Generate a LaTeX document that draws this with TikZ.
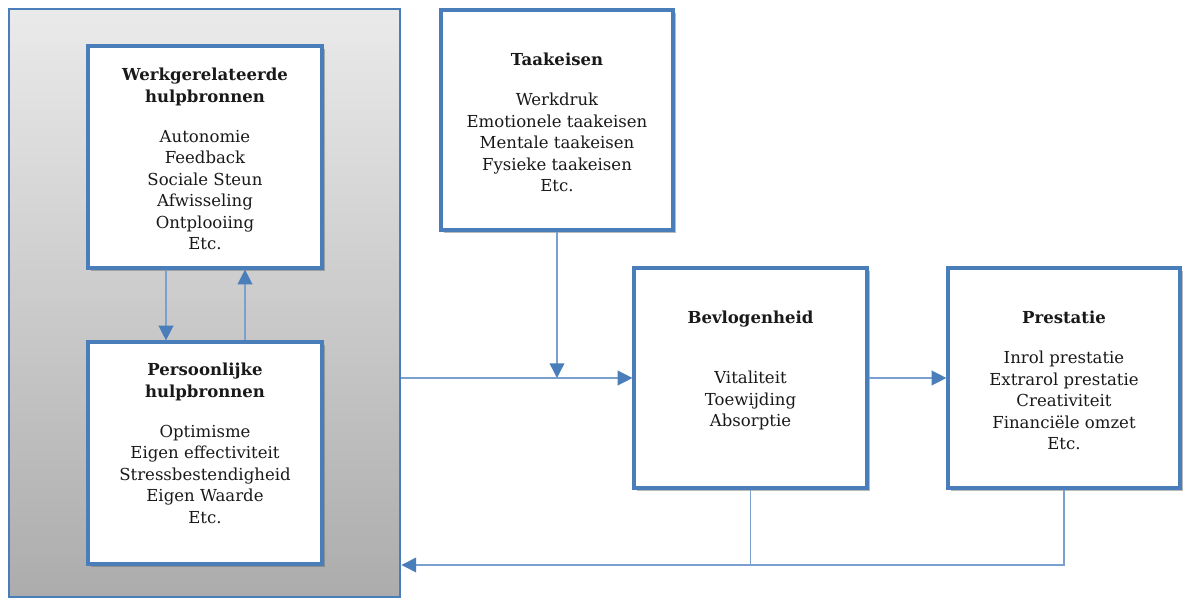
\documentclass[tikz,border=0pt]{standalone}
\usepackage{fontspec}
\setmainfont{DejaVu Serif}
\usetikzlibrary{arrows.meta,shadows}
\definecolor{boxblue}{RGB}{74,126,187}
\definecolor{lineblue}{RGB}{122,160,208}
\definecolor{txtcol}{RGB}{25,25,25}
\begin{document}
\begin{tikzpicture}[x=0.75pt,y=-0.75pt,
  box/.style={draw=boxblue,line width=2.4pt,fill=white,inner sep=0pt,
    drop shadow={shadow xshift=2.5pt,shadow yshift=-2.5pt,opacity=0.45,fill=black!60}},
  panelbox/.style={draw=boxblue,line width=2.2pt,inner sep=0pt,
    top color={rgb,255:red,234;green,234;blue,234},
    bottom color={rgb,255:red,172;green,172;blue,172}},
  txt/.style={anchor=north,align=center,inner sep=0pt,text=txtcol,
    font=\fontsize{12.4}{16.1}\selectfont},
  conn/.style={draw=lineblue,line width=1.1pt},
  arr/.style={conn,-{Triangle[length=11pt,width=11pt,fill=boxblue,color=boxblue]}}]
\useasboundingbox[fill=white] (0,0) rectangle (1183,599);

\node[panelbox,minimum width=293.25pt,minimum height=441pt] (panel) at (204.5,303) {};

\node[box,minimum width=175.5pt,minimum height=166.5pt] (werk) at (205,157) {};
\node[box,minimum width=175.5pt,minimum height=166.5pt] (pers) at (205,453) {};
\node[box,minimum width=174pt,minimum height=165pt] (taak) at (557,120) {};
\node[box,minimum width=174.75pt,minimum height=165pt] (bev) at (750.5,378) {};
\node[box,minimum width=174pt,minimum height=165pt] (pres) at (1064,378) {};

\node[txt] (tw) at (205,68) {\textbf{Werkgerelateerde}\\\textbf{hulpbronnen}\\[14pt]Autonomie\\Feedback\\Sociale Steun\\Afwisseling\\Ontplooiing\\Etc.};
\node[txt] (tp) at (205,363) {\textbf{Persoonlijke}\\\textbf{hulpbronnen}\\[14pt]Optimisme\\Eigen effectiviteit\\Stressbestendigheid\\Eigen Waarde\\Etc.};
\node[txt] (tt) at (557,53) {\textbf{Taakeisen}\\[14pt]Werkdruk\\Emotionele taakeisen\\Mentale taakeisen\\Fysieke taakeisen\\Etc.};
\node[txt] (tb) at (750.5,311) {\textbf{Bevlogenheid}\\[29pt]Vitaliteit\\Toewijding\\Absorptie};
\node[txt] (tr) at (1064,311) {\textbf{Prestatie}\\[14pt]Inrol prestatie\\Extrarol prestatie\\Creativiteit\\Financiële omzet\\Etc.};

\coordinate (xa) at (166,0);
\coordinate (xb) at (245,0);
\coordinate (fb) at (0,565);
\draw[arr] (werk.south -| xa) -- (pers.north -| xa);
\draw[arr] (pers.north -| xb) -- (werk.south -| xb);
\draw[arr] (panel.east |- bev.west) -- (bev.west);
\draw[arr] (taak.south) -- (taak.south |- bev.west);
\draw[arr] (bev.east) -- (pres.west);
\draw[conn] (bev.south) -- (bev.south |- fb);
\draw[arr] (pres.south) -- (pres.south |- fb) -- (panel.east |- fb);
\end{tikzpicture}
\end{document}
